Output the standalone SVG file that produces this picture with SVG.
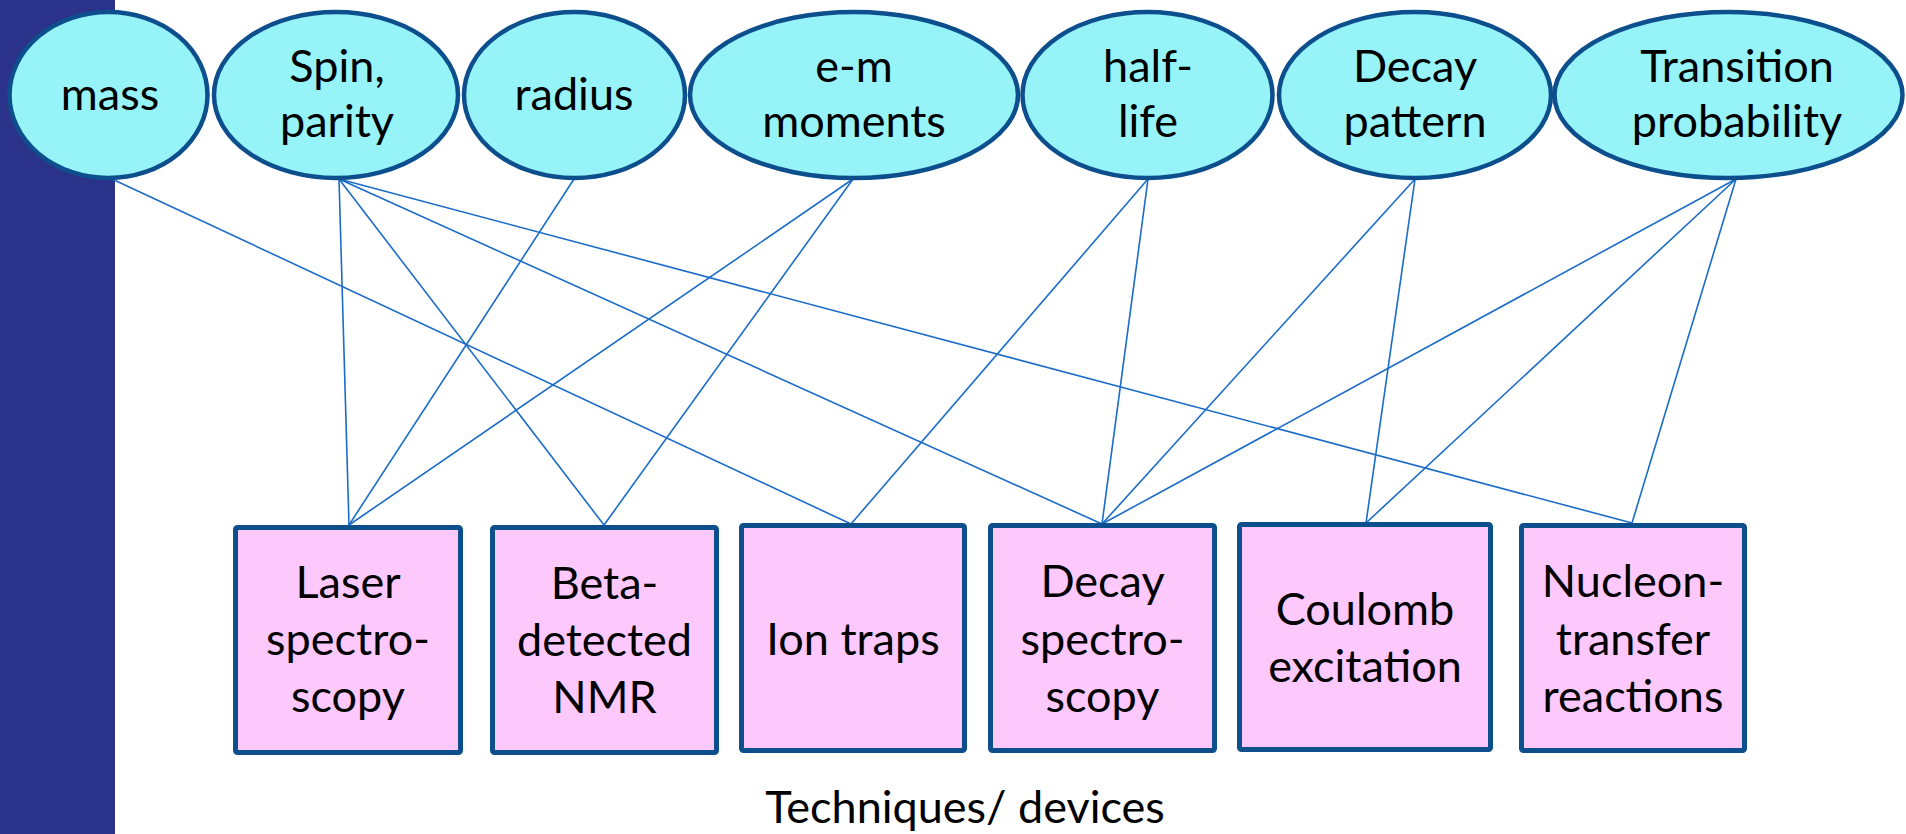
<svg xmlns="http://www.w3.org/2000/svg" width="1906" height="834" viewBox="0 0 1906 834">
  <style>
    .prop { fill: #96F4F9; stroke: #0D4F8D; stroke-width: 4.5; }
    .tech { fill: #FDC9FD; stroke: #0D4F8D; stroke-width: 5; }
    .lbl { font-family: Lato, "Liberation Sans", sans-serif; font-size: 45px; fill: #000; text-anchor: middle; }
    .cap { font-family: Lato, "Liberation Sans", sans-serif; font-size: 45px; fill: #000; text-anchor: middle; }
    .link { stroke: #1A6CC8; stroke-width: 1.6; fill: none; }
  </style>

  <rect width="1906" height="834" fill="#FFFFFF"/>
  <!-- side band -->
  <rect x="0" y="0" width="115" height="834" fill="#2A3389"/>

  <!-- connectors: property (ellipse bottom) to technique (box top) -->
  <g id="connectors">
    <line class="link" x1="112" y1="179" x2="851" y2="524"/>
    <line class="link" x1="339" y1="179" x2="349" y2="525"/>
    <line class="link" x1="339" y1="179" x2="604" y2="525"/>
    <line class="link" x1="339" y1="179" x2="1102" y2="524"/>
    <line class="link" x1="339" y1="179" x2="1632" y2="523"/>
    <line class="link" x1="574" y1="179" x2="349" y2="525"/>
    <line class="link" x1="853" y1="179" x2="349" y2="525"/>
    <line class="link" x1="853" y1="179" x2="604" y2="525"/>
    <line class="link" x1="1148" y1="179" x2="851" y2="524"/>
    <line class="link" x1="1148" y1="179" x2="1102" y2="524"/>
    <line class="link" x1="1415" y1="179" x2="1102" y2="524"/>
    <line class="link" x1="1415" y1="179" x2="1366" y2="523"/>
    <line class="link" x1="1736" y1="179" x2="1102" y2="524"/>
    <line class="link" x1="1736" y1="179" x2="1366" y2="523"/>
    <line class="link" x1="1736" y1="179" x2="1632" y2="523"/>
  </g>

  <!-- properties -->
  <g id="mass">
    <ellipse class="prop" cx="108.5" cy="95" rx="99" ry="83"/>
    <text class="lbl" x="110" y="110">mass</text>
  </g>
  <g id="spin-parity">
    <ellipse class="prop" cx="336" cy="95" rx="122" ry="83"/>
    <text class="lbl" x="337" y="82">Spin,</text>
    <text class="lbl" x="337" y="137">parity</text>
  </g>
  <g id="radius">
    <ellipse class="prop" cx="574.5" cy="95" rx="110.5" ry="83"/>
    <text class="lbl" x="574" y="110">radius</text>
  </g>
  <g id="em-moments">
    <ellipse class="prop" cx="854" cy="95" rx="164" ry="83"/>
    <text class="lbl" x="854" y="82">e-m</text>
    <text class="lbl" x="854" y="137">moments</text>
  </g>
  <g id="half-life">
    <ellipse class="prop" cx="1147.5" cy="95" rx="125" ry="83"/>
    <text class="lbl" x="1148" y="82">half-</text>
    <text class="lbl" x="1148" y="137">life</text>
  </g>
  <g id="decay-pattern">
    <ellipse class="prop" cx="1415" cy="95" rx="136" ry="83"/>
    <text class="lbl" x="1415" y="82">Decay</text>
    <text class="lbl" x="1415" y="137">pattern</text>
  </g>
  <g id="transition-probability">
    <ellipse class="prop" cx="1728.5" cy="95" rx="174" ry="83"/>
    <text class="lbl" x="1737" y="82">Transition</text>
    <text class="lbl" x="1737" y="137">probability</text>
  </g>

  <!-- techniques -->
  <g id="laser-spectroscopy">
    <rect class="tech" x="235.5" y="527.5" width="225" height="225" rx="2"/>
    <text class="lbl" x="348" y="598">Laser</text>
    <text class="lbl" x="348" y="655">spectro-</text>
    <text class="lbl" x="348" y="712">scopy</text>
  </g>
  <g id="beta-nmr">
    <rect class="tech" x="492.5" y="527.5" width="224" height="225" rx="2"/>
    <text class="lbl" x="604.5" y="599">Beta-</text>
    <text class="lbl" x="604.5" y="656">detected</text>
    <text class="lbl" x="604.5" y="713">NMR</text>
  </g>
  <g id="ion-traps">
    <rect class="tech" x="741.5" y="525.5" width="223" height="225" rx="2"/>
    <text class="lbl" x="853" y="655">Ion traps</text>
  </g>
  <g id="decay-spectroscopy">
    <rect class="tech" x="990.5" y="525.5" width="224" height="225" rx="2"/>
    <text class="lbl" x="1102.5" y="597">Decay</text>
    <text class="lbl" x="1102.5" y="655">spectro-</text>
    <text class="lbl" x="1102.5" y="712">scopy</text>
  </g>
  <g id="coulomb-excitation">
    <rect class="tech" x="1239.5" y="524.5" width="251" height="225" rx="2"/>
    <text class="lbl" x="1365" y="625">Coulomb</text>
    <text class="lbl" x="1365" y="682">excitation</text>
  </g>
  <g id="nucleon-transfer">
    <rect class="tech" x="1521.5" y="525.5" width="223" height="225" rx="2"/>
    <text class="lbl" x="1633" y="597">Nucleon-</text>
    <text class="lbl" x="1633" y="655">transfer</text>
    <text class="lbl" x="1633" y="712">reactions</text>
  </g>

  <text class="cap" x="965" y="823">Techniques/ devices</text>
</svg>
